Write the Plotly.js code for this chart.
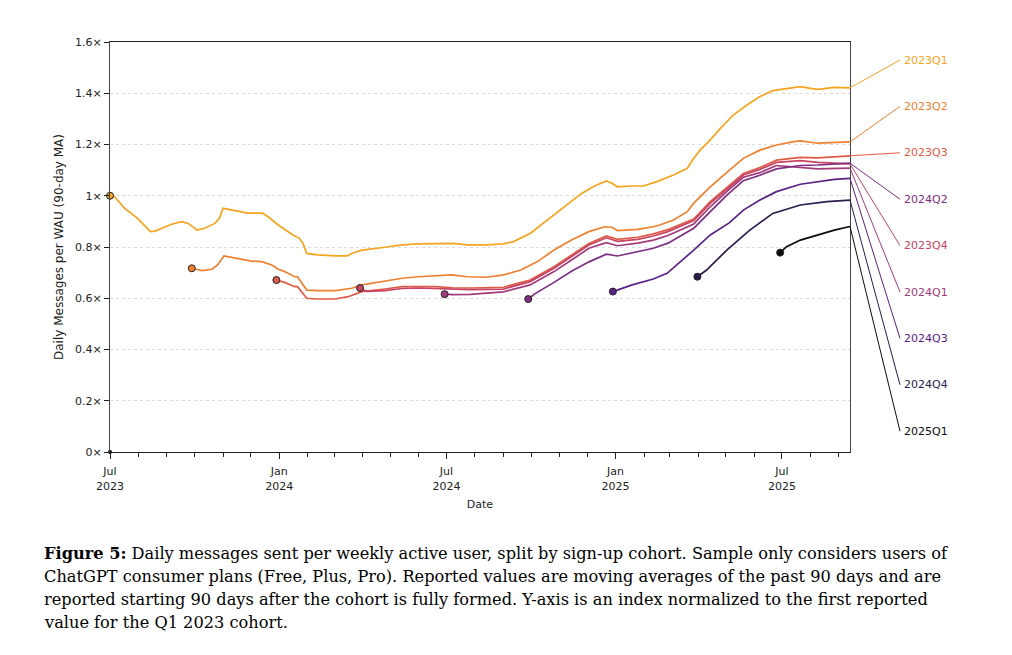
<!DOCTYPE html>
<html>
<head>
<meta charset="utf-8">
<script src="https://cdn.plot.ly/plotly-3.0.1.min.js"></script>
<style>html,body{margin:0;padding:0;background:#fff;}#chart{width:1012px;height:655px;}</style>
</head>
<body>
<div id="chart"></div>
<script>
// ---------------- DATA ----------------
var cohortNames = ['2023Q1','2023Q2','2023Q3','2023Q4','2024Q1','2024Q2','2024Q3','2024Q4','2025Q1'];

var q1_23_dates = ['2023-07-01','2023-07-06','2023-07-17','2023-07-31','2023-08-14','2023-08-19','2023-09-06','2023-09-17','2023-09-24','2023-10-04','2023-10-12','2023-10-23','2023-10-28','2023-11-01','2023-11-14','2023-11-28','2023-12-14','2023-12-20','2023-12-31','2024-01-16','2024-01-23','2024-01-27','2024-01-31','2024-02-12','2024-03-02','2024-03-15','2024-03-20','2024-03-31','2024-04-25','2024-05-14','2024-05-31','2024-06-19','2024-07-07','2024-07-24','2024-08-14','2024-09-01','2024-09-12','2024-09-30','2024-10-19','2024-11-06','2024-11-25','2024-12-09','2024-12-22','2024-12-28','2025-01-03','2025-01-17','2025-01-31','2025-02-15','2025-03-05','2025-03-20','2025-03-27','2025-04-03','2025-04-14','2025-04-25','2025-05-09','2025-05-24','2025-06-07','2025-06-21','2025-07-06','2025-07-21','2025-08-01','2025-08-09','2025-08-27','2025-09-13'];
var q1_23_vals  = [1.000,0.996,0.951,0.912,0.860,0.862,0.889,0.899,0.892,0.866,0.873,0.892,0.912,0.951,0.942,0.932,0.932,0.918,0.886,0.847,0.834,0.814,0.775,0.769,0.765,0.765,0.775,0.788,0.799,0.808,0.812,0.812,0.814,0.808,0.808,0.812,0.821,0.853,0.905,0.957,1.009,1.038,1.058,1.049,1.035,1.038,1.038,1.055,1.081,1.107,1.146,1.178,1.218,1.263,1.315,1.354,1.387,1.410,1.419,1.426,1.419,1.415,1.423,1.421];

var q2_23_dates = ['2023-09-28','2023-10-09','2023-10-20','2023-10-26','2023-11-02','2023-11-17','2023-12-02','2023-12-13','2023-12-24','2023-12-31','2024-01-07','2024-01-18','2024-01-21','2024-01-31','2024-02-12','2024-03-02','2024-03-20','2024-03-31','2024-04-25','2024-05-14','2024-05-31','2024-06-19','2024-07-07','2024-07-24','2024-08-14','2024-09-01','2024-09-20','2024-10-08','2024-10-26','2024-11-14','2024-12-03','2024-12-20','2024-12-28','2025-01-03','2025-01-25','2025-02-11','2025-02-18','2025-03-05','2025-03-20','2025-03-27','2025-04-14','2025-05-03','2025-05-20','2025-06-07','2025-06-25','2025-07-14','2025-07-21','2025-08-09','2025-08-27','2025-09-13'];
var q2_23_vals  = [0.717,0.708,0.713,0.730,0.765,0.756,0.745,0.743,0.730,0.713,0.704,0.684,0.684,0.632,0.630,0.630,0.639,0.652,0.667,0.678,0.684,0.687,0.691,0.684,0.682,0.691,0.710,0.743,0.788,0.827,0.860,0.879,0.877,0.864,0.869,0.879,0.886,0.905,0.938,0.971,1.035,1.094,1.146,1.178,1.198,1.211,1.214,1.205,1.209,1.210];

var q3_23_dates = ['2023-12-29','2024-01-07','2024-01-18','2024-01-21','2024-01-31','2024-02-12','2024-03-02','2024-03-16','2024-03-31','2024-04-14','2024-04-25','2024-05-14','2024-05-31','2024-06-19','2024-07-07','2024-07-27','2024-09-01','2024-09-30','2024-10-26','2024-11-14','2024-12-03','2024-12-22','2025-01-03','2025-01-25','2025-02-11','2025-02-27','2025-03-27','2025-04-14','2025-05-03','2025-05-20','2025-06-07','2025-06-25','2025-07-21','2025-08-09','2025-09-13'];
var q3_23_vals  = [0.671,0.662,0.645,0.645,0.600,0.597,0.597,0.606,0.626,0.630,0.636,0.645,0.645,0.645,0.641,0.640,0.643,0.671,0.723,0.769,0.814,0.843,0.830,0.838,0.851,0.868,0.909,0.977,1.035,1.087,1.110,1.139,1.150,1.148,1.156];

var q4_23_dates = ['2024-03-29','2024-04-05','2024-04-25','2024-05-14','2024-05-31','2024-06-19','2024-07-07','2024-07-27','2024-09-01','2024-09-30','2024-10-26','2024-11-14','2024-12-03','2024-12-22','2025-01-03','2025-01-25','2025-02-11','2025-02-27','2025-03-27','2025-04-14','2025-05-03','2025-05-20','2025-06-07','2025-06-25','2025-07-21','2025-08-09','2025-09-13'];
var q4_23_vals  = [0.640,0.627,0.630,0.638,0.640,0.638,0.635,0.634,0.636,0.665,0.717,0.762,0.808,0.836,0.822,0.830,0.843,0.860,0.903,0.970,1.029,1.081,1.103,1.130,1.137,1.130,1.124];

var q1_24_dates = ['2024-06-29','2024-07-07','2024-07-27','2024-09-01','2024-09-30','2024-10-26','2024-11-14','2024-12-03','2024-12-22','2025-01-03','2025-01-25','2025-02-11','2025-02-27','2025-03-27','2025-04-14','2025-05-03','2025-05-20','2025-06-07','2025-06-25','2025-07-21','2025-08-09','2025-09-13'];
var q1_24_vals  = [0.616,0.614,0.615,0.625,0.652,0.704,0.749,0.795,0.817,0.805,0.815,0.827,0.845,0.890,0.957,1.020,1.072,1.090,1.118,1.112,1.105,1.108];

var q2_24_dates = ['2024-09-28','2024-10-05','2024-10-26','2024-11-14','2024-12-03','2024-12-22','2025-01-03','2025-01-25','2025-02-11','2025-02-27','2025-03-27','2025-04-14','2025-05-03','2025-05-20','2025-06-07','2025-06-25','2025-07-21','2025-08-09','2025-09-13'];
var q2_24_vals  = [0.597,0.617,0.662,0.705,0.742,0.772,0.765,0.782,0.795,0.815,0.873,0.938,1.005,1.059,1.080,1.105,1.118,1.120,1.127];

var q3_24_dates = ['2024-12-29','2025-01-19','2025-02-11','2025-02-26','2025-03-27','2025-04-14','2025-05-05','2025-05-20','2025-06-07','2025-06-25','2025-07-21','2025-08-09','2025-08-27','2025-09-13'];
var q3_24_vals  = [0.626,0.652,0.675,0.697,0.788,0.847,0.895,0.944,0.983,1.016,1.045,1.055,1.064,1.068];

var q4_24_dates = ['2025-03-31','2025-04-10','2025-05-02','2025-05-27','2025-06-21','2025-07-21','2025-08-19','2025-09-13'];
var q4_24_vals  = [0.684,0.710,0.788,0.866,0.931,0.964,0.977,0.983];

var q1_25_dates = ['2025-06-29','2025-07-06','2025-07-21','2025-08-09','2025-08-27','2025-09-13'];
var q1_25_vals  = [0.778,0.801,0.827,0.847,0.866,0.880];

var originDotDate = ['2023-07-01'];
var originDotVal  = [0];

var yTickVals  = [0,0.2,0.4,0.6,0.8,1.0,1.2,1.4,1.6];
var yTickText  = ['0×','0.2×','0.4×','0.6×','0.8×','1×','1.2×','1.4×','1.6×'];
var xTickVals  = ['2023-07-01','2024-01-01','2024-07-01','2025-01-01','2025-07-01'];
var xTickText  = ['Jul<br>2023','Jan<br>2024','Jul<br>2024','Jan<br>2025','Jul<br>2025'];
var labelOrder = ['2023Q1','2023Q2','2023Q3','2024Q2','2023Q4','2024Q1','2024Q3','2024Q4','2025Q1'];

var captionLines = [
  '<b>Figure 5:</b> Daily messages sent per weekly active user, split by sign-up cohort. Sample only considers users of',
  'ChatGPT consumer plans (Free, Plus, Pro). Reported values are moving averages of the past 90 days and are',
  'reported starting 90 days after the cohort is fully formed. Y-axis is an index normalized to the first reported',
  'value for the Q1 2023 cohort.'
];

// ---------------- STYLE ----------------
var colors = ['#F5A41E','#EE8030','#DF5B47','#C94462','#A23A7C','#7D2E82','#592287','#2C1A4E','#0A0A0A'];
var seriesDates = [q1_23_dates,q2_23_dates,q3_23_dates,q4_23_dates,q1_24_dates,q2_24_dates,q3_24_dates,q4_24_dates,q1_25_dates];
var seriesVals  = [q1_23_vals,q2_23_vals,q3_23_vals,q4_23_vals,q1_24_vals,q2_24_vals,q3_24_vals,q4_24_vals,q1_25_vals];

var yMax = 1.6;
var plotL = 110, plotR = 850, plotT = 42, plotB = 452;
var W = 1012, H = 655;
function px2paperX(px){ return (px - plotL) / (plotR - plotL); }
function px2paperY(py){ return (plotB - py) / (plotB - plotT); }

var traces = [];
for (var i = 0; i < cohortNames.length; i++) {
  traces.push({
    type: 'scatter', mode: 'lines', name: cohortNames[i],
    x: seriesDates[i], y: seriesVals[i],
    line: {color: colors[i], width: 1.7},
    hoverinfo: 'skip', showlegend: false
  });
}
for (var i = 0; i < cohortNames.length; i++) {
  traces.push({
    type: 'scatter', mode: 'markers',
    x: [seriesDates[i][0]], y: [seriesVals[i][0]],
    marker: {color: colors[i], size: 7, line: {color: '#222', width: 1}},
    cliponaxis: false, hoverinfo: 'skip', showlegend: false
  });
}
traces.push({
  type: 'scatter', mode: 'markers', x: originDotDate, y: originDotVal,
  marker: {color: '#000', size: 4}, cliponaxis: false, hoverinfo: 'skip', showlegend: false
});

var shapes = [], annotations = [];
var labTop = 60, labStep = 46.4, labX = 902;
for (var k = 0; k < labelOrder.length; k++) {
  var idx = cohortNames.indexOf(labelOrder[k]);
  var vals = seriesVals[idx];
  var endV = vals[vals.length - 1];
  var ly = labTop + k * labStep;
  shapes.push({
    type: 'line', xref: 'paper', yref: 'paper',
    x0: 1, y0: endV / yMax, x1: px2paperX(labX - 2), y1: px2paperY(ly),
    line: {color: colors[idx], width: 1}
  });
  annotations.push({
    xref: 'paper', yref: 'paper', x: px2paperX(labX), y: px2paperY(ly),
    xanchor: 'left', yanchor: 'middle', showarrow: false,
    text: labelOrder[k], font: {family: 'DejaVu Sans', size: 11, color: colors[idx]}
  });
}
var capTop = 553, capStep = 23;
for (var c = 0; c < captionLines.length; c++) {
  annotations.push({
    xref: 'paper', yref: 'paper', x: px2paperX(42), y: px2paperY(capTop + c * capStep),
    xanchor: 'left', yanchor: 'middle', showarrow: false, align: 'left',
    text: captionLines[c], font: {family: 'DejaVu Serif', size: 16.2, color: '#000'}
  });
}

var layout = {
  width: W, height: H,
  margin: {l: plotL, r: W - plotR, t: plotT, b: H - plotB, pad: 0},
  paper_bgcolor: '#fff', plot_bgcolor: '#fff',
  font: {family: 'DejaVu Sans', size: 11, color: '#222'},
  showlegend: false,
  xaxis: {
    type: 'date', range: ['2023-07-01', '2025-09-13'],
    tickmode: 'array', tickvals: xTickVals, ticktext: xTickText,
    ticks: 'outside', ticklen: 6, tickwidth: 1, tickcolor: '#222',
    ticklabelstandoff: 3,
    minor: {dtick: 'M1', tick0: '2023-07-01', ticks: 'outside', ticklen: 4, tickwidth: 1, tickcolor: '#222', showgrid: false},
    showgrid: false, zeroline: false,
    showline: true, linecolor: '#222', linewidth: 1.2, mirror: true,
    tickfont: {family: 'DejaVu Sans', size: 11, color: '#222'},
    title: {text: 'Date', font: {family: 'DejaVu Sans', size: 11, color: '#222'}, standoff: 8}
  },
  yaxis: {
    range: [0, yMax], tickmode: 'array', tickvals: yTickVals, ticktext: yTickText,
    ticks: 'outside', ticklen: 5, tickwidth: 1, tickcolor: '#222',
    showgrid: true, gridcolor: '#d2d2d2', gridwidth: 0.8, griddash: 'dot',
    zeroline: false, showline: true, linecolor: '#444', linewidth: 1, mirror: true,
    tickfont: {family: 'DejaVu Sans', size: 11, color: '#222'},
    title: {text: 'Daily Messages per WAU (90-day MA)', font: {family: 'DejaVu Sans', size: 12, color: '#222'}, standoff: 8}
  },
  shapes: shapes,
  annotations: annotations
};

Plotly.newPlot('chart', traces, layout, {displayModeBar: false, staticPlot: true});
</script>
</body>
</html>
